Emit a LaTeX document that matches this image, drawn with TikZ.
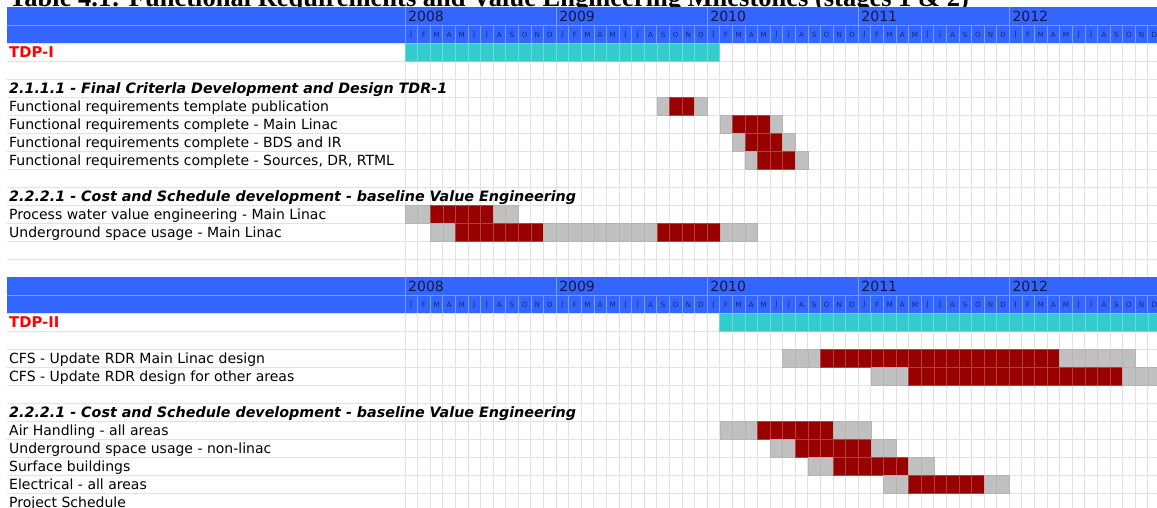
\documentclass[tikz,border=0pt]{standalone}
\usepackage{fontspec}
\setmainfont{DejaVu Sans}
\newfontfamily\titlefont{Liberation Serif}
\definecolor{hdrblue}{HTML}{3366FF}
\definecolor{hdrline}{HTML}{7A9BFF}
\definecolor{tealc}{HTML}{33CCCC}
\definecolor{teall}{HTML}{6ADADA}
\definecolor{darkredc}{HTML}{990000}
\definecolor{redline}{HTML}{B24040}
\definecolor{grayc}{HTML}{C0C0C0}
\definecolor{grayl}{HTML}{B4B4B4}
\definecolor{gridc}{HTML}{E2E2E2}
\definecolor{yeartxt}{HTML}{14143C}
\definecolor{monthtxt}{HTML}{182870}
\definecolor{tdpred}{HTML}{FF0000}
\tikzset{
  gridline/.style={draw=gridc, line width=0.9pt},
  hdrsep/.style={draw=hdrline, line width=0.7pt},
  redcell/.style={fill=darkredc, draw=redline, line width=0.5pt},
  graycell/.style={fill=grayc, draw=grayl, line width=0.5pt},
  tealcell/.style={fill=tealc, draw=teall, line width=0.6pt},
  yearlbl/.style={anchor=west, text=yeartxt, font=\fontsize{14}{14}\selectfont, inner sep=0pt},
  monthlbl/.style={text=monthtxt, font=\fontsize{7.2}{7}\selectfont, inner sep=0pt},
  tasklbl/.style={anchor=base west, font=\fontsize{14}{14}\selectfont, inner sep=0pt},
  headlbl/.style={anchor=base west, font=\fontsize{14.3}{14}\selectfont\bfseries\itshape, inner sep=0pt},
  tdplbl/.style={anchor=base west, text=tdpred, font=\fontsize{14.8}{14}\selectfont\bfseries, inner sep=0pt},
  titlelbl/.style={anchor=base west, font=\fontsize{26.5}{27}\selectfont\titlefont\bfseries, inner sep=0pt}
}
\newcommand\cellrun[4]{%
  \foreach \m in {#2,...,#3} {\path[#4] ({405+12.59*\m},{7+18*#1}) rectangle ++(12.59,18);}}
\newcommand\ganttheader[2]{%
  \fill[hdrblue] (7,#1) rectangle (1157,{#1+36});
  \draw[hdrsep] (7,{#1+18}) -- (1157,{#1+18});
  \foreach \m in {1,...,59} {\draw[hdrsep] ({405+12.59*\m},{#1+18}) -- ({405+12.59*\m},{#1+36});}
  \foreach \y in {0,...,4} {\draw[hdrsep] ({405+12.59*12*\y},#1) -- ({405+12.59*12*\y},{#1+36});}
  \foreach \y [count=\k from 0] in {2008,2009,2010,2011,2012}
    {\node[yearlbl] (#2y\y) at ({408+12.59*12*\k},{#1+9.5}) {\y};}
  \foreach \yy in {0,...,4}{
    \foreach \l [count=\k from 0] in {J,F,M,A,M,J,J,A,S,O,N,D}
      {\node[monthlbl] (#2m\yy-\k) at ({405+12.59*(12*\yy+\k+0.5)},{#1+27.5}) {\l};}}
}
\begin{document}
\begin{tikzpicture}[x=1pt,y=-1pt]
\useasboundingbox (0,0) rectangle (1157,508);
\clip (0,0) rectangle (1157,508);
% title (cut off at the top, as in the reference)
\node[titlelbl] (title) at (9,6.2) {Table 4.1: Functional Requirements and Value Engineering Milestones (stages 1 \& 2)};
% grid
\foreach \i in {1,...,28} {\draw[gridline] (7,{7+18*\i}) -- (1157,{7+18*\i});}
\foreach \m in {0,...,60} {\draw[gridline] ({405+12.59*\m},7) -- ({405+12.59*\m},508);}
% headers
\ganttheader{7}{a}
\ganttheader{277}{b}
% bars, first block
\cellrun{2}{0}{24}{tealcell}
\cellrun{5}{20}{20}{graycell}\cellrun{5}{21}{22}{redcell}\cellrun{5}{23}{23}{graycell}
\cellrun{6}{25}{25}{graycell}\cellrun{6}{26}{28}{redcell}\cellrun{6}{29}{29}{graycell}
\cellrun{7}{26}{26}{graycell}\cellrun{7}{27}{29}{redcell}\cellrun{7}{30}{30}{graycell}
\cellrun{8}{27}{27}{graycell}\cellrun{8}{28}{30}{redcell}\cellrun{8}{31}{31}{graycell}
\cellrun{11}{0}{1}{graycell}\cellrun{11}{2}{6}{redcell}\cellrun{11}{7}{8}{graycell}
\cellrun{12}{2}{3}{graycell}\cellrun{12}{4}{10}{redcell}\cellrun{12}{11}{19}{graycell}\cellrun{12}{20}{24}{redcell}\cellrun{12}{25}{27}{graycell}
% bars, second block
\cellrun{17}{25}{59}{tealcell}
\cellrun{19}{30}{32}{graycell}\cellrun{19}{33}{51}{redcell}\cellrun{19}{52}{57}{graycell}
\cellrun{20}{37}{39}{graycell}\cellrun{20}{40}{56}{redcell}\cellrun{20}{57}{59}{graycell}
\cellrun{23}{25}{27}{graycell}\cellrun{23}{28}{33}{redcell}\cellrun{23}{34}{36}{graycell}
\cellrun{24}{29}{30}{graycell}\cellrun{24}{31}{36}{redcell}\cellrun{24}{37}{38}{graycell}
\cellrun{25}{32}{33}{graycell}\cellrun{25}{34}{39}{redcell}\cellrun{25}{40}{41}{graycell}
\cellrun{26}{38}{39}{graycell}\cellrun{26}{40}{45}{redcell}\cellrun{26}{46}{47}{graycell}
% labels
\node[tdplbl] (tdp1) at (9,{7+18*2+14.5}) {TDP-I};
\node[headlbl] (h1) at (9,{7+18*4+14.5}) {2.1.1.1 - Final Criterla Development and Design TDR-1};
\node[tasklbl] (t1) at (9,{7+18*5+14.5}) {Functional requirements template publication};
\node[tasklbl] (t2) at (9,{7+18*6+14.5}) {Functional requirements complete - Main Linac};
\node[tasklbl] (t3) at (9,{7+18*7+14.5}) {Functional requirements complete - BDS and IR};
\node[tasklbl] (t4) at (9,{7+18*8+14.5}) {Functional requirements complete - Sources, DR, RTML};
\node[headlbl] (h2) at (9,{7+18*10+14.5}) {2.2.2.1 - Cost and Schedule development - baseline Value Engineering};
\node[tasklbl] (t5) at (9,{7+18*11+14.5}) {Process water value engineering - Main Linac};
\node[tasklbl] (t6) at (9,{7+18*12+14.5}) {Underground space usage - Main Linac};
\node[tdplbl] (tdp2) at (9,{7+18*17+14.5}) {TDP-II};
\node[tasklbl] (t7) at (9,{7+18*19+14.5}) {CFS - Update RDR Main Linac design};
\node[tasklbl] (t8) at (9,{7+18*20+14.5}) {CFS - Update RDR design for other areas};
\node[headlbl] (h3) at (9,{7+18*22+14.5}) {2.2.2.1 - Cost and Schedule development - baseline Value Engineering};
\node[tasklbl] (t9) at (9,{7+18*23+14.5}) {Air Handling - all areas};
\node[tasklbl] (t10) at (9,{7+18*24+14.5}) {Underground space usage - non-linac};
\node[tasklbl] (t11) at (9,{7+18*25+14.5}) {Surface buildings};
\node[tasklbl] (t12) at (9,{7+18*26+14.5}) {Electrical - all areas};
\node[tasklbl] (t13) at (9,{7+18*27+14.5}) {Project Schedule};
\end{tikzpicture}
\end{document}
